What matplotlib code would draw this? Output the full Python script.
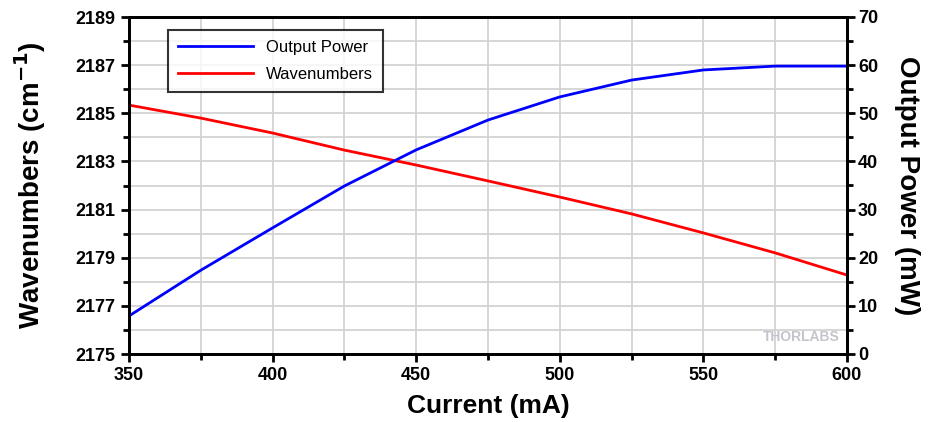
import numpy as np
import matplotlib.pyplot as plt
from matplotlib.ticker import MultipleLocator

plt.rcParams["font.family"] = ["Liberation Sans", "DejaVu Sans"]
plt.rcParams["font.weight"] = "bold"

# Values
current = [350, 375, 400, 425, 450, 475, 500, 525, 550, 575, 600]
wavenumbers = [2185.34, 2184.80, 2184.18, 2183.47, 2182.85, 2182.19, 2181.52, 2180.82, 2180.03, 2179.20, 2178.28]
power = [7.9, 17.4, 26.2, 34.9, 42.4, 48.6, 53.4, 56.9, 59.0, 59.8, 59.8]
wn_ticks = [2175, 2177, 2179, 2181, 2183, 2185, 2187, 2189]

fig = plt.figure(figsize=(9.3, 4.22), dpi=100)
ax = fig.add_axes([129 / 930, 1 - 354 / 422, 718 / 930, 337 / 422])
ax2 = ax.twinx()

ax.plot(current, wavenumbers, color="red", lw=2, label="Wavenumbers")
ax2.plot(current, power, color="blue", lw=2, label="Output Power")

ax.set_xlim(350, 600)
ax.set_ylim(2175, 2189)
ax2.set_ylim(0, 70)

ax.xaxis.set_major_locator(MultipleLocator(50))
ax.xaxis.set_minor_locator(MultipleLocator(25))
ax.set_yticks(wn_ticks)
ax.yaxis.set_minor_locator(MultipleLocator(1))
ax2.yaxis.set_major_locator(MultipleLocator(10))
ax2.yaxis.set_minor_locator(MultipleLocator(5))

ax.grid(True, which="both", color="#d0d0d0", lw=1.2)
ax.set_axisbelow(True)

for a in (ax, ax2):
    for s in a.spines.values():
        s.set_linewidth(2)
    a.tick_params(which="major", direction="out", length=6, width=2, labelsize=13)
    a.tick_params(which="minor", direction="out", length=4, width=2)
ax2.tick_params(axis="y", pad=2)

ax.set_xlabel("Current (mA)", fontsize=19, fontweight="bold", labelpad=7)
ax.set_ylabel("Wavenumbers (cm$^{\\mathbf{-1}}$)", fontsize=20, fontweight="bold", labelpad=20)
ax2.set_ylabel("Output Power (mW)", fontsize=20, fontweight="bold", rotation=270, labelpad=30)

h1, l1 = ax2.get_legend_handles_labels()
h2, l2 = ax.get_legend_handles_labels()
leg = ax2.legend(h1 + h2, l1 + l2, loc="upper left", bbox_to_anchor=(0.054, 0.961),
                 borderaxespad=0, fontsize=12, frameon=True, fancybox=False,
                 edgecolor="black", handlelength=4.5, borderpad=0.6, labelspacing=0.7)
leg.get_frame().set_linewidth(1.5)
for t in leg.get_texts():
    t.set_fontweight("normal")

ax.text(0.99, 0.05, "THORLABS", transform=ax.transAxes, ha="right", va="center",
        fontsize=10, fontweight="bold", color="#c4c4cc")

fig.savefig("out.png", dpi=100)
